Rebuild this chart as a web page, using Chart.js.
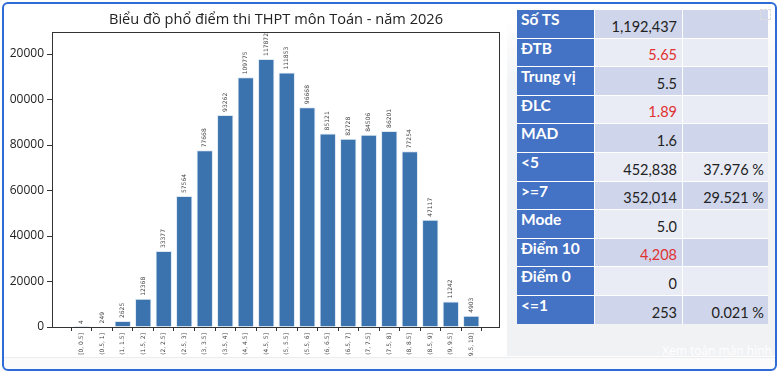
<!DOCTYPE html>
<html>
<head>
<meta charset="utf-8">
<script src="https://cdn.jsdelivr.net/npm/chart.js@4.4.1/dist/chart.umd.min.js"></script>
<style>
  body { margin: 0; width: 780px; height: 374px; background: #fff; position: relative; overflow: hidden; font-family: Lato, sans-serif; }
  #chartBox { position: absolute; left: 7px; top: 8px; width: 498px; height: 349px; background: #fff; overflow: hidden; }
  #panel { position: absolute; left: 507px; top: 4px; width: 269px; height: 352px;
    background: linear-gradient(#fff 0px, #fff 12px, #f3f4f6 80px, #f1f2f4 100%); }
  #bottomStrip { position: absolute; left: 4px; top: 357px; width: 772px; height: 13px; background: #fbfbfb; border-top: 1px solid #ececec; }
  #stats { position: absolute; left: 517px; top: 10px; display: grid; grid-template-columns: 77px 87px 85px;
    grid-auto-rows: 27.6px; gap: 1px; background: #fff; }
  #stats div { box-sizing: border-box; display: flex; white-space: nowrap; }
  #stats .lab { background: #4472c4; color: #fff; font-weight: 700; font-size: 15.5px; padding: 0 0 0 4px; align-items: flex-start; }
  #stats .val { color: #222; font-size: 14.5px; align-items: flex-end; justify-content: flex-end; padding: 0 5px 3px 0; }
  #stats .dark { background: #cfd5ea; }
  #stats .light { background: #e9ebf5; }
  #stats .red { color: #e03131; }
  #fullscreen { position: absolute; left: 662px; top: 342px; color: #fff; font-size: 12px; font-family: "Open Sans", sans-serif; }
  #corner { position: absolute; left: 760px; top: 9px; width: 9px; height: 9px; border: 1px dashed #ddd; }
  #frame { position: absolute; left: 2px; top: 2px; width: 775px; height: 369px; box-sizing: border-box;
    border: 2px solid #2e6bd6; border-radius: 6px; }
</style>
</head>
<body>
<div id="panel"></div>
<div id="bottomStrip"></div>
<div id="chartBox"><canvas id="scoreChart" width="498" height="349"></canvas></div>
<div id="stats"></div>
<div id="corner"></div>
<div id="fullscreen">Xem toàn màn hình</div>
<div id="frame"></div>

<script>
// Score bins and number of candidates in each bin
const categories = [
  "[0, 0.5]", "(0.5, 1]", "(1, 1.5]", "(1.5, 2]", "(2, 2.5]",
  "(2.5, 3]", "(3, 3.5]", "(3.5, 4]", "(4, 4.5]", "(4.5, 5]",
  "(5, 5.5]", "(5.5, 6]", "(6, 6.5]", "(6.5, 7]", "(7, 7.5]",
  "(7.5, 8]", "(8, 8.5]", "(8.5, 9]", "(9, 9.5]", "(9.5, 10]",
];
const counts = [
  4, 249, 2625, 12368, 33377, 57564, 77668, 93262, 109775, 117872,
  111853, 96668, 85121, 82728, 84506, 86201, 77254, 47117, 11242, 4903,
];
const yTickValues = [0, 20000, 40000, 60000, 80000, 100000, 120000];
const yMax = 129700;
const chartTitle = "Biểu đồ phổ điểm thi THPT môn Toán - năm 2026";

// Summary table
const statLabels = ["Số TS", "ĐTB", "Trung vị", "ĐLC", "MAD", "<5", ">=7", "Mode", "Điểm 10", "Điểm 0", "<=1"];
const statValues = ["1,192,437", "5.65", "5.5", "1.89", "1.6", "452,838", "352,014", "5.0", "4,208", "0", "253"];
const statPercents = ["", "", "", "", "", "37.976 %", "29.521 %", "", "", "", "0.021 %"];
const highlighted = ["ĐTB", "ĐLC", "Điểm 10"];

// Build the table
const statsEl = document.getElementById("stats");
statLabels.forEach(function (label, i) {
  const shade = i % 2 === 0 ? "dark" : "light";
  const lab = document.createElement("div");
  lab.className = "lab";
  lab.textContent = label;
  const val = document.createElement("div");
  val.className = "val " + shade + (highlighted.includes(label) ? " red" : "");
  val.textContent = statValues[i];
  const pct = document.createElement("div");
  pct.className = "val " + shade;
  pct.style.paddingRight = "4px";
  pct.textContent = statPercents[i];
  statsEl.appendChild(lab);
  statsEl.appendChild(val);
  statsEl.appendChild(pct);
});

// Full box around the plot (like matplotlib spines) + title centred on the plot area
const boxPlugin = {
  id: "plotBox",
  afterDraw(chart) {
    const { ctx, chartArea } = chart;
    ctx.save();
    ctx.strokeStyle = "#333";
    ctx.lineWidth = 1;
    ctx.strokeRect(chartArea.left + 0.5, chartArea.top + 0.5,
      chartArea.right - chartArea.left - 1, chartArea.bottom - chartArea.top);
    ctx.fillStyle = "#222";
    ctx.font = "14.6px 'Open Sans'";
    ctx.textAlign = "center";
    ctx.textBaseline = "middle";
    ctx.fillText(chartTitle, (chartArea.left + chartArea.right) / 2, chartArea.top - 12);
    ctx.restore();
  },
};

// Rotated counts above each bar
const valueLabels = {
  id: "valueLabels",
  afterDatasetsDraw(chart) {
    const ctx = chart.ctx;
    const meta = chart.getDatasetMeta(0);
    ctx.save();
    ctx.fillStyle = "#444";
    ctx.font = "6px 'DejaVu Sans'";
    ctx.textAlign = "left";
    ctx.textBaseline = "middle";
    meta.data.forEach(function (bar, i) {
      ctx.save();
      ctx.translate(bar.x, bar.y - 3);
      ctx.rotate(-Math.PI / 2);
      ctx.fillText(String(counts[i]), 0, 0);
      ctx.restore();
    });
    ctx.restore();
  },
};

const ctx = document.getElementById("scoreChart").getContext("2d");
new Chart(ctx, {
  type: "bar",
  data: {
    datasets: [
      {
        data: counts.map((v, i) => ({ x: i, y: v })),
        backgroundColor: "#3a73ae",
        borderColor: "#dfe9f4",
        borderWidth: 1,
        barPercentage: 0.8,
        categoryPercentage: 1.0,
      },
    ],
  },
  options: {
    responsive: false,
    animation: false,
    devicePixelRatio: 1,
    layout: { padding: { top: 24, right: 5, bottom: 0, left: 0 } },
    scales: {
      x: {
        type: "linear",
        min: -1.45,
        max: 20.4,
        offset: false,
        afterFit(scale) { scale.height = 30; },
        afterBuildTicks(scale) {
          scale.ticks = categories.map((c, i) => ({ value: i }));
        },
        ticks: {
          autoSkip: false,
          minRotation: 90,
          maxRotation: 90,
          padding: 2,
          color: "#444",
          font: { family: "DejaVu Sans", size: 6 },
          callback: (value) => categories[Math.round(value)] || "",
        },
        grid: { display: true, drawOnChartArea: false, drawTicks: true, tickLength: 4, tickColor: "#333" },
        border: { display: false },
      },
      y: {
        min: 0,
        max: yMax,
        afterFit(scale) { scale.width = 45; },
        afterBuildTicks(scale) {
          scale.ticks = yTickValues.map((v) => ({ value: v }));
        },
        ticks: {
          padding: 3,
          color: "#222",
          font: { family: "Open Sans", size: 12 },
          callback: (value) => String(value),
        },
        grid: { display: true, drawOnChartArea: false, drawTicks: true, tickLength: 5, tickColor: "#333" },
        border: { display: false },
      },
    },
    plugins: {
      legend: { display: false },
      tooltip: { enabled: false },
      title: { display: false },
    },
  },
  plugins: [boxPlugin, valueLabels],
});
</script>
</body>
</html>
